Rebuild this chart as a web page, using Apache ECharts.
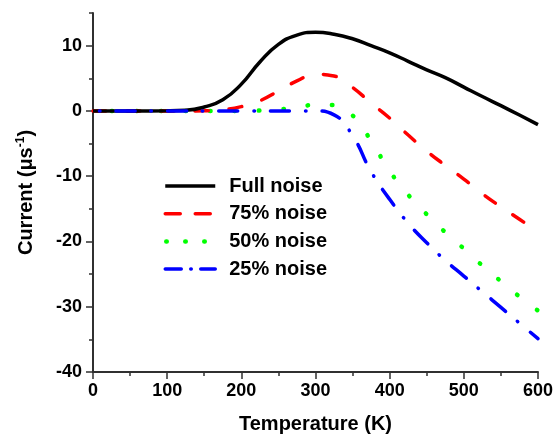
<!DOCTYPE html>
<html>
<head>
<meta charset="utf-8">
<script src="https://cdn.jsdelivr.net/npm/echarts@6/dist/echarts.min.js"></script>
<style>html,body{margin:0;padding:0;background:#fff;}#c{width:556px;height:439px;}</style>
</head>
<body>
<div id="c"></div>
<script>
var temps = [0,50,100,125,150,175,200,225,250,275,300,325,350,375,400,425,450,475,500,525,550,575,600];
var fullNoise = [0,0,0.02,0.1,0.6,1.7,4.1,7.5,10.2,11.6,12.05,11.75,11.05,10.0,8.9,7.6,6.3,5.1,3.65,2.2,0.8,-0.63,-2.1];
var noise75 = [0,0,0,0,0.02,0.2,0.65,1.55,3.05,4.6,5.6,5.35,3.6,1.2,-1.1,-3.7,-6.15,-8.35,-10.45,-12.7,-14.7,-16.6,-18.5];
var noise50 = [0,0,0,0,0,0,0,0.05,0.2,0.6,0.9,0.9,-0.7,-4.6,-9.2,-12.85,-15.85,-18.6,-21.1,-23.7,-26.1,-28.45,-30.6];
var noise25 = [0,0,0,0,0,0,0,0,0,0,0,-0.6,-3.8,-9.3,-13.55,-17.2,-20.2,-22.9,-25.3,-27.7,-30.1,-32.5,-34.9];
var seriesNames = ['Full noise','75% noise','50% noise','25% noise'];
var yTicks = [-40,-30,-20,-10,0,10];
var yMinorTicks = [-40,-35,-30,-25,-20,-15,-10,-5,0,5,10,15];

function pairs(v){ return temps.map(function(t,i){ return [t, v[i]]; }); }
var FONT = 'Liberation Sans, Arial, sans-serif';
var axisColor = '#303030';

var chart = echarts.init(document.getElementById('c'), null, {renderer:'canvas'});
chart.setOption({
  animation:false,
  backgroundColor:'#fff',
  grid:{left:93, right:14, top:13, bottom:64, containLabel:false},
  legend:{
    orient:'vertical', left:163, top:176, padding:0,
    itemWidth:50, itemHeight:14, itemGap:7.7,
    data:[
      {name:seriesNames[0], lineStyle:{width:3.5}},
      {name:seriesNames[1], lineStyle:{width:3.5, type:[15,15], dashOffset:0, cap:'round'}},
      {name:seriesNames[2], lineStyle:{width:4.5, type:[0.5,18.5], dashOffset:-1, cap:'round'}},
      {name:seriesNames[3], lineStyle:{width:3.5, type:[16,9.5,0.5,9.5], dashOffset:0, cap:'round'}}
    ],
    itemStyle:{opacity:0},
    textStyle:{fontFamily:FONT, fontWeight:'bold', fontSize:20, color:'#000', lineHeight:20, padding:[0,0,0,9]}
  },
  xAxis:{
    type:'value', min:0, max:600, interval:100,
    name:'Temperature (K)', nameLocation:'middle', nameGap:42,
    nameTextStyle:{fontFamily:FONT, fontWeight:'bold', fontSize:20, color:'#000'},
    axisLine:{show:true, onZero:false, lineStyle:{color:axisColor, width:2}},
    axisTick:{show:true, inside:false, length:7, lineStyle:{color:axisColor, width:1.5}},
    minorTick:{show:true, splitNumber:2, length:4, lineStyle:{color:axisColor, width:1.5}},
    axisLabel:{fontFamily:FONT, fontWeight:'bold', fontSize:18, color:'#000', margin:10},
    splitLine:{show:false}
  },
  yAxis:[{
    type:'value', min:-40, max:15, interval:10,
    name:'{a|Current (μs}{s|-1}{a|)}', nameLocation:'middle', nameGap:56, nameRotate:90,
    nameTextStyle:{fontFamily:FONT, fontWeight:'bold', fontSize:20, color:'#000',
      rich:{a:{fontFamily:FONT, fontWeight:'bold', fontSize:20, color:'#000', lineHeight:22},
            s:{fontFamily:FONT, fontWeight:'bold', fontSize:12, color:'#000', verticalAlign:'top', lineHeight:22, padding:[0,0,8,0]}}},
    axisLine:{show:true, onZero:false, lineStyle:{color:axisColor, width:2}},
    axisTick:{show:true, inside:false, length:7, customValues:yTicks, lineStyle:{color:axisColor, width:1.5}},
    axisLabel:{fontFamily:FONT, fontWeight:'bold', fontSize:18, color:'#000', margin:11, customValues:yTicks},
    splitLine:{show:false}
  },{
    type:'value', min:-40, max:15, interval:5, position:'left',
    axisLine:{show:false},
    axisTick:{show:true, inside:false, length:4, customValues:yMinorTicks, lineStyle:{color:axisColor, width:1.5}},
    axisLabel:{show:false},
    splitLine:{show:false}
  }],
  series:[
    {name:seriesNames[0], type:'line', data:pairs(fullNoise), smooth:0.5, symbol:'none', z:4,
      lineStyle:{color:'#000000', width:3.5}, itemStyle:{color:'#000000'}},
    {name:seriesNames[1], type:'line', data:pairs(noise75), smooth:0.5, symbol:'none', z:3,
      lineStyle:{color:'#ff0000', width:3.5, type:[13,21], cap:'round'}, itemStyle:{color:'#ff0000'}},
    {name:seriesNames[2], type:'line', data:pairs(noise50), smooth:0.5, symbol:'none', z:2,
      lineStyle:{color:'#00ff00', width:4.5, type:[0.5,24], dashOffset:5.5, cap:'round'}, itemStyle:{color:'#00ff00'}},
    {name:seriesNames[3], type:'line', data:pairs(noise25), smooth:0.5, symbol:'none', z:5,
      lineStyle:{color:'#0000ff', width:3.5, type:[19,16,0.5,16], dashOffset:28.5, cap:'round'}, itemStyle:{color:'#0000ff'}}
  ]
});
</script>
</body>
</html>
